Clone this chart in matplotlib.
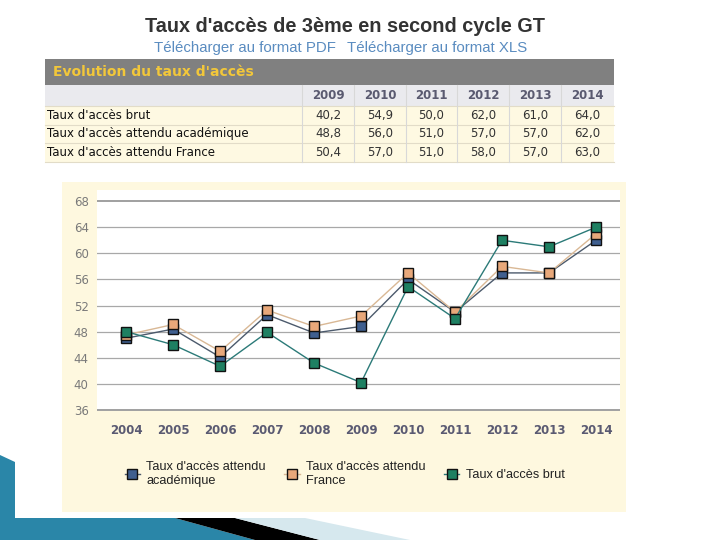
import matplotlib
matplotlib.use("Agg")
import matplotlib.pyplot as plt
from matplotlib.patches import Rectangle, Polygon

# ---------------- data ----------------
table_years = ["2009", "2010", "2011", "2012", "2013", "2014"]
table_labels = ["Taux d'accès brut", "Taux d'accès attendu académique", "Taux d'accès attendu France"]
table_brut = ["40,2", "54,9", "50,0", "62,0", "61,0", "64,0"]
table_acad = ["48,8", "56,0", "51,0", "57,0", "57,0", "62,0"]
table_france = ["50,4", "57,0", "51,0", "58,0", "57,0", "63,0"]

years = ["2004", "2005", "2006", "2007", "2008", "2009", "2010", "2011", "2012", "2013", "2014"]
academique = [47.0, 48.4, 44.1, 50.6, 47.8, 48.8, 56.0, 51.0, 57.0, 57.0, 62.0]
france = [47.5, 49.1, 45.0, 51.3, 48.8, 50.4, 57.0, 51.0, 58.0, 57.0, 63.0]
brut = [48.0, 46.0, 42.7, 47.9, 43.2, 40.2, 54.9, 50.0, 62.0, 61.0, 64.0]
yticks = [36, 40, 44, 48, 52, 56, 60, 64, 68]
series_labels = ["Taux d'accès attendu\nacadémique", "Taux d'accès attendu\nFrance", "Taux d'accès brut"]

# ---------------- figure ----------------
W, H = 720, 540
fig = plt.figure(figsize=(7.2, 5.4), dpi=100)
fig.patch.set_facecolor("white")

bg = fig.add_axes([0, 0, 1, 1], zorder=0)
bg.set_xlim(0, W)
bg.set_ylim(H, 0)
bg.axis("off")

# title and links
bg.text(345, 27, "Taux d'accès de 3ème en second cycle GT", ha="center", va="center",
        fontsize=14.3, fontweight="bold", color="#333333", family="Liberation Sans")
bg.text(244.5, 48, "Télécharger au format PDF", ha="center", va="center",
        fontsize=10.8, color="#5A8CC0", family="Liberation Sans")
bg.text(437, 48, "Télécharger au format XLS", ha="center", va="center",
        fontsize=10.8, color="#5A8CC0", family="Liberation Sans")

# table
tx0, tx1 = 45, 614
bg.add_patch(Rectangle((tx0, 59), tx1 - tx0, 26, facecolor="#808080", edgecolor="none"))
bg.text(53, 72.5, "Evolution du taux d'accès", ha="left", va="center", fontsize=10,
        fontweight="bold", color="#F2C73A", family="DejaVu Sans")
bg.add_patch(Rectangle((tx0, 85), tx1 - tx0, 21, facecolor="#EAEAEE", edgecolor="none"))
col_edges = [302, 354, 406, 457, 509, 561, 614]
row_tops = [106, 124.5, 143]
row_h = 18.5
for rt in row_tops:
    bg.add_patch(Rectangle((tx0, rt), tx1 - tx0, row_h, facecolor="#FEF9E2",
                           edgecolor="none"))
    bg.plot([tx0, tx1], [rt, rt], color="#E2DCC8", lw=0.8)
bg.plot([tx0, tx1], [row_tops[-1] + row_h, row_tops[-1] + row_h], color="#E2DCC8", lw=0.8)
for ce in col_edges[:-1]:
    bg.plot([ce, ce], [85, row_tops[-1] + row_h], color="#D8D8D8", lw=0.8)

for i, yr in enumerate(table_years):
    cx = (col_edges[i] + col_edges[i + 1]) / 2
    bg.text(cx, 95.5, yr, ha="center", va="center", fontsize=8.5, fontweight="bold",
            color="#5A5A70", family="DejaVu Sans")
for r, (lab, vals) in enumerate(zip(table_labels, [table_brut, table_acad, table_france])):
    cy = row_tops[r] + row_h / 2
    bg.text(47, cy, lab, ha="left", va="center", fontsize=8.5, color="#111111",
            family="DejaVu Sans")
    for i, v in enumerate(vals):
        cx = (col_edges[i] + col_edges[i + 1]) / 2
        bg.text(cx, cy, v, ha="center", va="center", fontsize=8.5, color="#333333",
                family="DejaVu Sans")

# chart panel
bg.add_patch(Rectangle((62, 182), 564, 330, facecolor="#FEF8DF", edgecolor="none"))

# decorations bottom-left
bg.add_patch(Polygon([(0, 455), (15, 462), (15, 518), (175, 518), (255, 540), (0, 540)],
                     closed=True, facecolor="#2A86A8", edgecolor="none"))
bg.add_patch(Polygon([(175, 518), (235, 518), (320, 540), (255, 540)],
                     closed=True, facecolor="#000000", edgecolor="none"))
bg.add_patch(Polygon([(235, 518), (305, 518), (410, 540), (320, 540)],
                     closed=True, facecolor="#D6E8EE", edgecolor="none"))

# ---------------- chart ----------------
def fx(px):
    return px / W

def fy(py):
    return 1 - py / H

left, right, top, bottom = 97, 620, 190, 411
ax = fig.add_axes([fx(left), fy(bottom), fx(right) - fx(left), fy(top) - fy(bottom)], zorder=1)
ax.set_facecolor("white")
x = list(range(len(years)))
ax.set_xlim(-0.62, 10.51)
ax.set_ylim(35.85, 69.7)
for s in ax.spines.values():
    s.set_visible(False)
for yv in yticks:
    ax.axhline(yv, color="#A8A8A8" if yv not in (36, 68) else "#A0A0A0",
               lw=0.9 if yv not in (36, 68) else 1.4, zorder=1)
ax.set_yticks(yticks)
ax.set_yticklabels([str(v) for v in yticks], fontsize=8.5, color="#7A7A7A",
                   family="DejaVu Sans")
ax.set_xticks(x)
ax.set_xticklabels(years, fontsize=8.5, fontweight="bold", color="#5A5A72",
                   family="DejaVu Sans")
ax.tick_params(length=0)
ax.tick_params(axis="y", pad=6)
ax.tick_params(axis="x", pad=9)

l1, = ax.plot(x, academique, color="#4C5A6C", lw=1.0, marker="s", markersize=7,
              markerfacecolor="#3F5F8F", markeredgecolor="#111111", markeredgewidth=1.0,
              zorder=3, label=series_labels[0])
l2, = ax.plot(x, france, color="#D9B895", lw=1.0, marker="s", markersize=7,
              markerfacecolor="#E8A87A", markeredgecolor="#111111", markeredgewidth=1.0,
              zorder=4, label=series_labels[1])
l3, = ax.plot(x, brut, color="#2B7A78", lw=1.0, marker="s", markersize=7,
              markerfacecolor="#1E8062", markeredgecolor="#111111", markeredgewidth=1.0,
              zorder=5, label=series_labels[2])

leg = fig.legend(handles=[l1, l2, l3], labels=series_labels, ncol=3, frameon=False,
                 loc="center left", bbox_to_anchor=(fx(113), fy(474)),
                 handlelength=1.2, handletextpad=0.5, columnspacing=1.45,
                 prop={"family": "Liberation Sans", "size": 9.2})
for t in leg.get_texts():
    t.set_color("#222222")

fig.savefig("out.png", dpi=100, facecolor="white")
